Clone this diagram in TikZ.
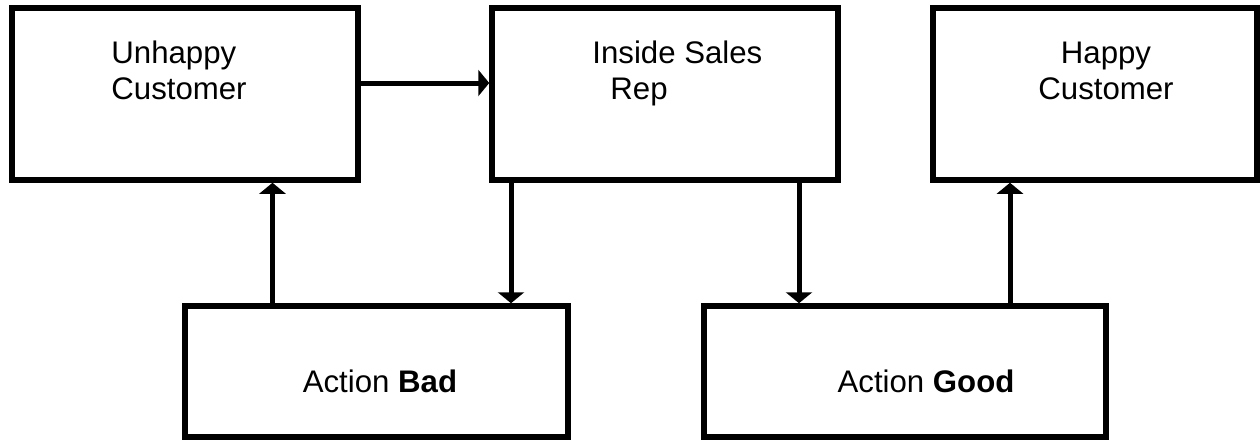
\documentclass[tikz,border=0pt]{standalone}
\usepackage{fontspec}
\setmainfont{Liberation Sans}
\usetikzlibrary{arrows.meta}
\newcommand{\unitsize}{0.5pt}

\begin{document}
\begin{tikzpicture}
\useasboundingbox (0,0) rectangle (1260*\unitsize,-441*\unitsize);
\tikzstyle{box}=[draw,
			rectangle,
			line width = 5.5*\unitsize,
			inner sep=0pt
			]
\tikzstyle{txt}=[inner sep=0pt,
			font=\fontsize{15.6}{18}\selectfont
			]
\tikzstyle{arr}=[line width = 5*\unitsize,
			-{Triangle[length=11*\unitsize, width=26*\unitsize]}
			]

% boxes
\node[box, minimum width=346*\unitsize, minimum height=172*\unitsize] (unhappy) at (185*\unitsize,-94*\unitsize) {};
\node[box, minimum width=346*\unitsize, minimum height=172*\unitsize] (inside) at (665*\unitsize,-94*\unitsize) {};
\node[box, minimum width=324*\unitsize, minimum height=172*\unitsize] (happy) at (1095*\unitsize,-94*\unitsize) {};
\node[box, minimum width=383*\unitsize, minimum height=131*\unitsize] (bad) at (376.5*\unitsize,-371.5*\unitsize) {};
\node[box, minimum width=402*\unitsize, minimum height=131*\unitsize] (good) at (905*\unitsize,-371.5*\unitsize) {};

% texts
\node[txt, align=left, anchor=base west] (unhappytxt) at (111*\unitsize,-99*\unitsize) {Unhappy\\Customer};
\node[txt, align=left, anchor=base west] (insidetxt) at (592*\unitsize,-99*\unitsize) {Inside Sales\\\hspace*{9pt}Rep};
\node[txt, align=center, anchor=base] (happytxt) at (1106*\unitsize,-99*\unitsize) {Happy\\Customer};
\node[txt, anchor=base] (badtxt) at (380*\unitsize,-392*\unitsize) {Action \textbf{Bad}};
\node[txt, anchor=base] (goodtxt) at (926*\unitsize,-392*\unitsize) {Action \textbf{Good}};

% arrows
\draw[arr] ([yshift=11*\unitsize]unhappy.east) -- ([yshift=11*\unitsize]inside.west);
\draw[arr] ([xshift=-104*\unitsize]bad.north) -- ([xshift=-104*\unitsize]bad.north |- unhappy.south);
\draw[arr] ([xshift=-154*\unitsize]inside.south) -- ([xshift=-154*\unitsize]inside.south |- bad.north);
\draw[arr] ([xshift=134*\unitsize]inside.south) -- ([xshift=134*\unitsize]inside.south |- good.north);
\draw[arr] ([xshift=105*\unitsize]good.north) -- ([xshift=105*\unitsize]good.north |- happy.south);

\end{tikzpicture}
\end{document}
